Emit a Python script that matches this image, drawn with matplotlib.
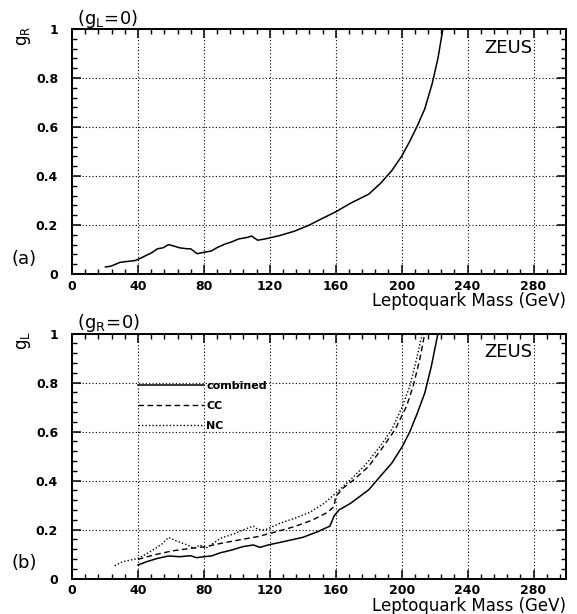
import numpy as np
import matplotlib
matplotlib.use("Agg")
import matplotlib.pyplot as plt
from matplotlib.ticker import MultipleLocator, FixedFormatter, FixedLocator

# ---------------- data ----------------
# panel (a): g_R limit (g_L = 0)
mass_a = [20.3, 23.6, 29.3, 38.3, 41.7, 45, 48.4, 51.8, 55.2, 58.6, 61.9, 65.3, 69.8, 72,
          75.9, 78.8, 84.5, 87.8, 92.3, 96.8, 101, 106, 109, 112.6, 117, 126, 135, 144,
          151, 160, 169, 180, 187, 194, 200, 205, 209.5, 214, 218.5, 222, 225]
gR_a = [0.029, 0.032, 0.048, 0.055, 0.065, 0.076, 0.087, 0.103, 0.107, 0.120, 0.114, 0.107,
        0.103, 0.103, 0.083, 0.087, 0.094, 0.107, 0.121, 0.131, 0.143, 0.149, 0.155, 0.138,
        0.143, 0.157, 0.175, 0.200, 0.224, 0.254, 0.289, 0.326, 0.369, 0.422, 0.481, 0.543,
        0.605, 0.674, 0.777, 0.880, 1.0]

# panel (b): g_L limits (g_R = 0)
mass_comb = [40, 45, 51.8, 58.6, 65.3, 72, 75.5, 80, 84.5, 90, 96.8, 103.6, 110, 114, 119,
             128, 140, 149, 156.5, 159, 162, 169, 180, 187, 194, 200.5, 205, 209.5, 214,
             218, 222]
gL_comb = [0.055, 0.068, 0.082, 0.092, 0.089, 0.093, 0.085, 0.089, 0.092, 0.105, 0.116,
           0.130, 0.137, 0.127, 0.137, 0.150, 0.168, 0.191, 0.214, 0.255, 0.280, 0.307,
           0.362, 0.417, 0.471, 0.540, 0.600, 0.675, 0.757, 0.866, 1.0]

mass_cc = [40, 49.5, 61, 72, 81, 90, 101, 112.6, 124, 135, 146, 155, 159, 160, 164.5, 171,
           180, 189, 196, 203, 207, 211, 214]
gL_cc = [0.078, 0.096, 0.113, 0.123, 0.130, 0.143, 0.157, 0.171, 0.191, 0.212, 0.239, 0.270,
         0.294, 0.335, 0.369, 0.403, 0.458, 0.540, 0.608, 0.704, 0.786, 0.895, 1.0]

mass_nc = [25.9, 30.4, 40, 45, 50.7, 55, 58.6, 63, 70, 74, 77.7, 81, 85.6, 90, 99, 103.6,
           110, 112.6, 117, 126, 135, 144, 153, 160, 169, 178, 187, 194, 200.5, 205, 209,
           212.5]
gL_nc = [0.052, 0.068, 0.082, 0.100, 0.123, 0.143, 0.168, 0.154, 0.137, 0.123, 0.137, 0.123,
         0.143, 0.164, 0.184, 0.198, 0.214, 0.201, 0.198, 0.225, 0.246, 0.269, 0.307, 0.348,
         0.403, 0.464, 0.540, 0.608, 0.704, 0.786, 0.895, 1.0]

x_ticks = [0, 40, 80, 120, 160, 200, 240, 280]
x_ticklabels = ["0", "40", "80", "120", "160", "200", "240", "280"]
y_ticks = [0, 0.2, 0.4, 0.6, 0.8, 1.0]
y_ticklabels = ["0", "0.2", "0.4", "0.6", "0.8", "1"]
legend_labels = ["combined", "CC", "NC"]

# ---------------- figure ----------------
fig = plt.figure(figsize=(5.77, 6.14), dpi=100)
ax_a = fig.add_axes([0.1248, 0.5537, 0.857, 0.399])
ax_b = fig.add_axes([0.1248, 0.0578, 0.857, 0.399])

FONT = "DejaVu Sans"


def style(ax, xlab_y, zeus_y):
    ax.set_xlim(0, 300)
    ax.set_ylim(0, 1)
    ax.xaxis.set_major_locator(FixedLocator(x_ticks))
    ax.xaxis.set_major_formatter(FixedFormatter(x_ticklabels))
    ax.yaxis.set_major_locator(FixedLocator(y_ticks))
    ax.yaxis.set_major_formatter(FixedFormatter(y_ticklabels))
    ax.xaxis.set_minor_locator(MultipleLocator(8))
    ax.yaxis.set_minor_locator(MultipleLocator(0.04))
    ax.tick_params(which="both", direction="in", top=True, right=True, color="black")
    ax.tick_params(which="major", length=6.5, width=1.1)
    ax.tick_params(which="minor", length=3.5, width=1.0)
    ax.tick_params(axis="x", pad=4)
    ax.tick_params(axis="y", pad=10)
    for lab in ax.get_xticklabels() + ax.get_yticklabels():
        lab.set_fontfamily(FONT)
        lab.set_fontweight("bold")
        lab.set_fontsize(9)
    ax.grid(True, which="major", linestyle=(0, (1, 2)), color="black", linewidth=0.8)
    for s in ax.spines.values():
        s.set_linewidth(1.4)
    ax.set_xlabel("Leptoquark Mass (GeV)", fontsize=12, family=FONT, ha="right",
                  va="center")
    ax.xaxis.set_label_coords(1.0, xlab_y)
    ax.text(0.930, zeus_y, "ZEUS", transform=ax.transAxes, ha="right", va="center",
            fontsize=13, family=FONT)


# panel (a)
ax_a.plot(mass_a, gR_a, color="black", linewidth=1.1)
style(ax_a, -0.112, 0.922)
ax_a.text(0.01, 1.043, r"$(\mathrm{g_L}\!=\!0)$", transform=ax_a.transAxes, ha="left",
          va="center", fontsize=13)
ax_a.text(-0.097, 0.973, r"$\mathrm{g_R}$", transform=ax_a.transAxes, rotation=90,
          ha="center", va="center", fontsize=12)
ax_a.text(-0.096, 0.063, "(a)", transform=ax_a.transAxes, ha="center", va="center",
          fontsize=13, family=FONT)

# panel (b)
l1, = ax_b.plot(mass_comb, gL_comb, color="black", linewidth=1.1, linestyle="-")
l2, = ax_b.plot(mass_cc, gL_cc, color="black", linewidth=1.0, linestyle=(0, (4, 2.5)))
l3, = ax_b.plot(mass_nc, gL_nc, color="black", linewidth=1.0, linestyle=(0, (1, 1.5)))
style(ax_b, -0.112, 0.924)
leg = ax_b.legend([l1, l2, l3], legend_labels, loc="upper left",
                  bbox_to_anchor=(0.1335, 0.806), frameon=False,
                  prop=dict(family=FONT, weight="bold", size=8),
                  handlelength=5.95, handletextpad=0.2, labelspacing=0.88,
                  borderaxespad=0, borderpad=0)
ax_b.text(0.01, 1.043, r"$(\mathrm{g_R}\!=\!0)$", transform=ax_b.transAxes, ha="left",
          va="center", fontsize=13)
ax_b.text(-0.097, 0.973, r"$\mathrm{g_L}$", transform=ax_b.transAxes, rotation=90,
          ha="center", va="center", fontsize=12)
ax_b.text(-0.096, 0.063, "(b)", transform=ax_b.transAxes, ha="center", va="center",
          fontsize=13, family=FONT)

fig.savefig("out.png", dpi=100)
